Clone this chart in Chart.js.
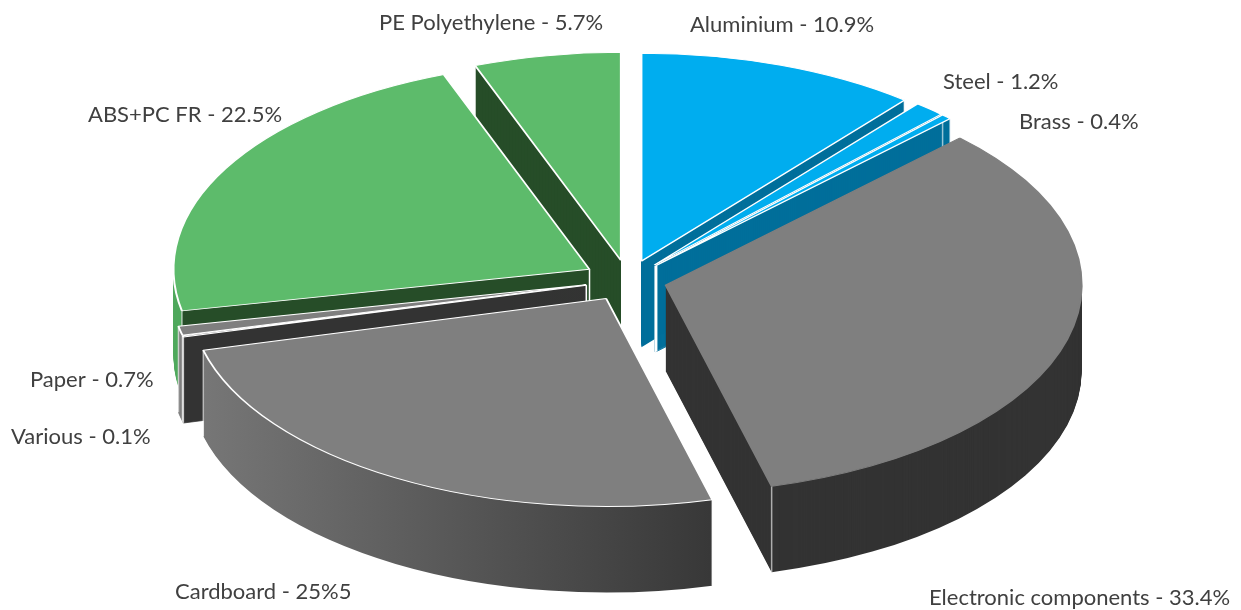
<!DOCTYPE html>
<html>
<head>
<meta charset="utf-8">
<title>Material breakdown</title>
<script src="https://cdn.jsdelivr.net/npm/chart.js@4/dist/chart.umd.min.js"></script>
<style>
	html, body { margin: 0; background: #fff; }
	#wrap { position: relative; width: 1241px; height: 610px; }
</style>
</head>
<body>
<div id="wrap"><canvas id="pie"></canvas></div>
<script>
const materials = ["Aluminium", "Steel", "Brass", "Electronic components", "Cardboard", "Various", "Paper", "ABS+PC FR", "PE Polyethylene"];
// cardboard is printed as "25%5" but its slice reads about 25.1
const shares = [10.9, 1.2, 0.4, 33.4, 25.1, 0.1, 0.7, 22.5, 5.7];
const shareLabels = ["10.9%", "1.2%", "0.4%", "33.4%", "25%5", "0.1%", "0.7%", "22.5%", "5.7%"];

// look of the slices, not data
const topColors = ["#00adef", "#00adef", "#00adef", "#7f7f7f", "#7f7f7f", "#7f7f7f", "#7f7f7f", "#5dbb6b", "#5dbb6b"];
const outlineColors = ["#ffffff", "#ffffff", "#ffffff", "#7f7f7f", "#ffffff", "#ffffff", "#ffffff", "#ffffff", "#ffffff"];
const cutColors = ["#006f9b", "#006f9b", "#006f9b", "#333333", "#333333", "#333333", "#333333", "#264d28", "#264d28"];
const rimColors = ["#006f9b", "#006f9b", "#006f9b", "#333333", "#333333", "#7f7f7f", "#7f7f7f", "#4fa85c", "#264d28"];
const apexEdges = [0, 0, 3, 0, 0, 1.5, 1.5, 1.5, 0];
const explode = [40, 40, 40, 39, 43, 43, 43, 44, 40];
const drawOrder = [8, 0, 1, 2, 7, 6, 5, 4, 3];
const labelAnchors = [
	[690, 25], [943, 82], [1019, 122], [929, 598], [175, 592], [11, 437], [30, 380], [88, 115], [379, 23],
];

const tilt = 0.5;
const depth = 86;
const centerY = 280;

function placeSlice(ctx, arc, index, drop) {
	const mid = (arc.startAngle + arc.endAngle) / 2;
	ctx.translate(arc.x, centerY + drop);
	ctx.scale(1, tilt);
	ctx.translate(-arc.x, -arc.y);
	ctx.translate(Math.cos(mid) * explode[index], Math.sin(mid) * explode[index]);
}

function wallFill(ctx, arc, index) {
	const r = arc.outerRadius;
	if (index === 4) {
		const shade = ctx.createLinearGradient(arc.x - r, 0, arc.x + 0.25 * r, 0);
		shade.addColorStop(0, "#787878");
		shade.addColorStop(1, "#383838");
		return shade;
	}
	if (rimColors[index] === cutColors[index]) return cutColors[index];
	// outer wall stops at the slice corner, the cut face starts there
	const corner = arc.x + r * Math.cos(arc.startAngle);
	const edge = ctx.createLinearGradient(corner - 1, 0, corner + 1, 0);
	edge.addColorStop(0, rimColors[index]);
	edge.addColorStop(1, cutColors[index]);
	return edge;
}

function wallEdge(ctx, x, y, color, width) {
	ctx.save();
	ctx.strokeStyle = color;
	ctx.lineWidth = width;
	ctx.beginPath();
	ctx.moveTo(x, y);
	ctx.lineTo(x, y + depth);
	ctx.stroke();
	ctx.restore();
}

const pie3d = {
	id: "pie3d",
	beforeDatasetDraw(chart) {
		const ctx = chart.ctx;
		const arcs = chart.getDatasetMeta(0).data;
		for (const index of drawOrder) {
			const arc = arcs[index];
			const base = arc.options;
			const r = arc.outerRadius;
			const wall = wallFill(ctx, arc, index);

			// thin stroke keeps the tips of the narrow slices solid
			const stroke = shares[index] < 2 ? 1 : 0;
			arc.options = { ...base, borderWidth: stroke, borderColor: wall, backgroundColor: wall };
			for (let drop = depth; drop > 0; drop--) {
				ctx.save();
				placeSlice(ctx, arc, index, drop);
				arc.draw(ctx);
				ctx.restore();
			}

			// pale edges down the outer corners
			const mid = (arc.startAngle + arc.endAngle) / 2;
			const apexX = arc.x + Math.cos(mid) * explode[index];
			const apexY = centerY + Math.sin(mid) * explode[index] * tilt;
			for (const angle of [arc.startAngle, arc.endAngle]) {
				wallEdge(ctx, apexX + r * Math.cos(angle), apexY + r * Math.sin(angle) * tilt, "rgba(255,255,255,0.6)", 1.5);
			}
			if (apexEdges[index]) wallEdge(ctx, apexX, apexY, "#ffffff", apexEdges[index]);

			arc.options = base;
			ctx.save();
			placeSlice(ctx, arc, index, 0);
			arc.draw(ctx);
			ctx.restore();
		}
		return false;
	},
	afterDatasetsDraw(chart) {
		const ctx = chart.ctx;
		ctx.save();
		ctx.font = "22px Lato, 'Open Sans', sans-serif";
		ctx.fillStyle = "#404040";
		ctx.textAlign = "left";
		ctx.textBaseline = "middle";
		materials.forEach((name, i) => {
			ctx.fillText(`${name} - ${shareLabels[i]}`, labelAnchors[i][0], labelAnchors[i][1]);
		});
		ctx.restore();
	},
};

new Chart(document.getElementById("pie"), {
	type: "pie",
	data: {
		labels: materials,
		datasets: [
			{
				data: shares,
				backgroundColor: topColors,
				borderColor: outlineColors,
				borderWidth: 2,
				radius: 416,
			},
		],
	},
	options: {
		responsive: true,
		maintainAspectRatio: false,
		animation: false,
		layout: { padding: { left: 15 } },
		plugins: {
			legend: { display: false },
			tooltip: { enabled: false },
		},
	},
	plugins: [pie3d],
});
</script>
</body>
</html>
